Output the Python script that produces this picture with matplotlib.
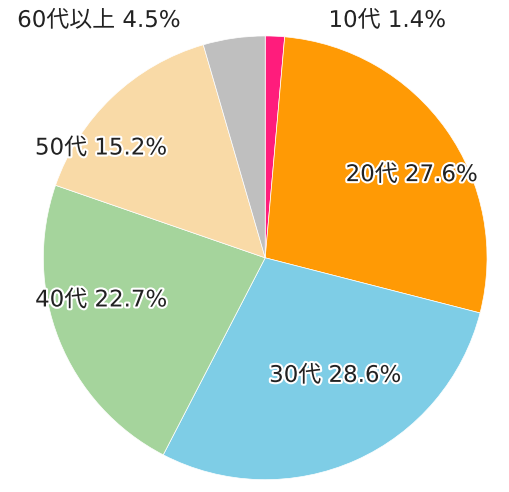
import matplotlib
matplotlib.use("Agg")
import matplotlib.pyplot as plt
import matplotlib.patheffects as pe

plt.rcParams['font.family'] = ['DejaVu Sans', 'Noto Sans CJK JP']

categories = ['10代', '20代', '30代', '40代', '50代', '60代以上']
values = [1.4, 27.6, 28.6, 22.7, 15.2, 4.5]
colors = ['#FF1C7C', '#FF9A05', '#7ECDE6', '#A5D49C', '#F9DAA7', '#BFBFBF']

fig = plt.figure(figsize=(5.1, 4.92), dpi=100)
ax = fig.add_axes([0.52 - 0.435, 0.476 - 0.451, 0.87, 0.902])
wedges, _ = ax.pie(values, colors=colors, startangle=90, counterclock=False,
                   wedgeprops=dict(edgecolor='white', linewidth=0.5))
ax.set_xlim(-1, 1); ax.set_ylim(-1, 1)

# label centres in data units
label_xy = [(0.55, 1.07), (0.66, 0.375), (0.315, -0.53),
            (-0.74, -0.19), (-0.74, 0.495), (-0.75, 1.07)]
stroke = [pe.withStroke(linewidth=3, foreground='white')]
for i, (x, y) in enumerate(label_xy):
    ax.text(x, y, f'{categories[i]} {values[i]}%', ha='center', va='center',
            fontsize=16.5, color='#222222', path_effects=stroke)

fig.savefig('out.png', dpi=100)
